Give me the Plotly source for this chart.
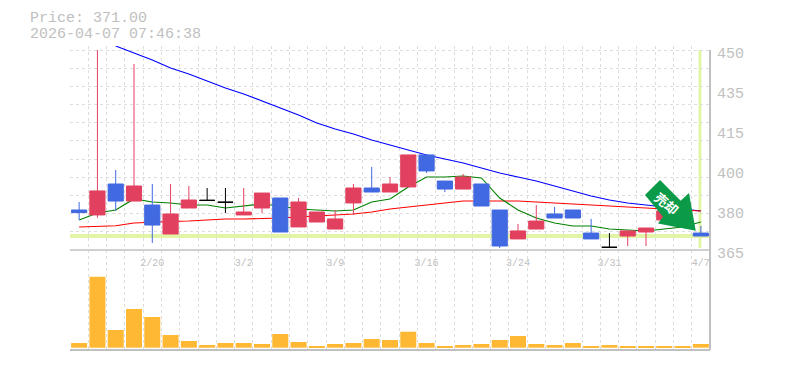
import plotly.graph_objects as go

dates = ["2/16","2/17","2/18","2/19","2/20","2/24","2/25","2/26","2/27","3/2","3/3","3/4","3/5","3/6","3/9","3/10","3/11","3/12","3/13","3/16","3/17","3/18","3/19","3/23","3/24","3/25","3/26","3/27","3/30","3/31","4/1","4/2","4/3","4/6","4/7"]
open_ = [382.0,379.9,393.05,385.8,384.1,371.8,382.85,386.1,385.3,379.9,382.85,387.1,374.8,376.9,373.9,385.0,391.35,389.65,391.8,405.4,394.3,390.9,393.05,382.0,369.7,373.9,380.3,382.0,372.2,366.15,370.95,372.65,377.75,382.0,372.2]
high_ = [385.4,450.0,399.0,444.05,393.05,393.05,392.2,391.35,391.35,391.35,389.2,387.1,387.1,381.15,382.0,393.05,400.3,396.0,405.4,405.8,394.3,397.3,393.05,382.0,376.05,384.1,383.3,382.0,378.2,372.2,373.1,374.35,381.6,382.0,375.2]
low_  = [377.75,378.7,381.7,385.8,368.0,371.8,382.85,386.1,380.7,379.9,380.7,372.65,374.8,376.9,373.9,379.9,389.65,389.65,391.8,397.7,389.65,390.9,383.7,365.85,369.7,373.9,378.6,378.6,369.7,366.15,366.7,366.7,377.75,376.9,370.95]
close = [380.9,390.1,385.8,392.2,375.6,380.3,386.25,386.1,385.3,381.15,389.2,372.65,385.4,381.15,378.2,391.35,389.65,393.05,405.4,398.6,390.9,396.0,383.7,366.7,373.1,377.3,378.6,378.6,369.7,366.15,373.1,374.35,381.6,376.9,370.95]
doji_idx = [7,8,29]
ma_long = [None,None,451.7,448.7,445.75,442.35,439.8,436.8,433.85,431.3,428.3,425.35,422.4,419.0,416.4,414.3,411.75,409.6,407.5,405.4,403.7,402.0,399.85,397.7,396.0,394.3,392.2,390.1,387.95,386.25,385.0,384.1,383.3,382.4,381.6]
ma_mid  = [374.8,375.2,375.3,376.5,376.9,377.1,377.3,377.75,378.2,378.2,378.3,378.6,379.0,379.45,379.9,380.3,381.15,382.4,383.3,384.1,385.0,385.8,385.8,385.8,385.8,385.4,385.0,384.55,384.1,383.7,383.3,382.85,382.4,382.0,381.6]
ma_short= [377.75,380.7,382.0,386.7,385.4,385.0,384.1,384.1,382.85,383.7,384.55,383.7,382.4,382.0,381.6,382.0,385.4,386.7,391.8,396.0,396.0,396.45,395.6,387.1,382.0,378.6,376.5,375.2,375.2,373.9,373.5,373.1,373.9,374.8,376.9]
volume = [47,710,177,387,307,127,67,27,47,47,37,137,57,17,37,47,87,77,160,47,17,27,37,77,117,37,27,47,17,27,17,17,17,17,37]
current_price = 371.0
price_ticks = [365,382,399,416,433,450]
price_labels = ["365","380","400","415","435","450"]
date_tick_idx = [4,9,14,19,24,29,34]
arrow_text = "売却"

RED="#e2405f"; BLUE="#4169e1"; GRID="#dddddd"; AXIS="#c0c0c0"; HL="#e2f5a5"
W,H=785,370
L,R,T,B=70,75,46,20
PH=H-T-B
VOL_FRAC=100/PH
TOP=365+204*0.425
idx=list(range(len(dates)))
norm=[i for i in idx if i not in doji_idx]
px_x=lambda p:(p-L)/(W-L-R)
px_y=lambda p:(H-B-p)/PH

fig=go.Figure()
for s,c,w in [(ma_long,"#0000ff",1.1),(ma_mid,"#ff0000",1.1),(ma_short,"#008000",1.1)]:
    fig.add_trace(go.Scatter(x=idx,y=s,mode="lines",line=dict(color=c,width=w),zorder=-1,showlegend=False,xaxis="x",yaxis="y"))
fig.add_trace(go.Candlestick(x=norm,open=[open_[i] for i in norm],high=[high_[i] for i in norm],low=[low_[i] for i in norm],close=[close[i] for i in norm],
    increasing=dict(line=dict(color=RED,width=1),fillcolor=RED),decreasing=dict(line=dict(color=BLUE,width=1),fillcolor=BLUE),whiskerwidth=0,showlegend=False))
fig.add_trace(go.Candlestick(x=doji_idx,open=[close[i] for i in doji_idx],high=[high_[i] for i in doji_idx],low=[low_[i] for i in doji_idx],close=[close[i] for i in doji_idx],
    increasing=dict(line=dict(color="#000000",width=1),fillcolor="#000000"),decreasing=dict(line=dict(color="#000000",width=1),fillcolor="#000000"),whiskerwidth=0,showlegend=False))
fig.add_trace(go.Bar(x=idx,y=volume,marker=dict(color="#ffb833",line=dict(width=0)),width=0.875,xaxis="x2",yaxis="y2",showlegend=False))

grid_x=[i-0.5 for i in range(len(dates)+1)]
grid_y=[365+k*85/11 for k in range(12)]
minor_x=dict(tickmode="array",tickvals=grid_x,showgrid=True,gridcolor=GRID,griddash="3px,3px",gridwidth=1,ticklen=0)
axis_shape=lambda a,b,c,d,w:dict(type="line",xref="paper",yref="paper",x0=px_x(a),x1=px_x(c),y0=px_y(b),y1=px_y(d),line=dict(color=AXIS,width=w),layer="above")
fig.update_layout(width=W,height=H,margin=dict(l=L,r=R,t=T,b=B,autoexpand=False),paper_bgcolor="#fff",plot_bgcolor="#fff",boxgap=0.17,boxgroupgap=0,bargap=0.125,boxmode="overlay",
  xaxis=dict(domain=[0,1],range=[-0.5,34.5],anchor="y",rangeslider=dict(visible=False),showgrid=False,minor=minor_x,tickmode="array",tickvals=date_tick_idx,ticktext=[dates[i] for i in date_tick_idx],
     tickfont=dict(family="Liberation Mono",size=10,color=AXIS),ticks="outside",ticklen=3,tickcolor="rgba(0,0,0,0)",showline=False,zeroline=False),
  yaxis=dict(domain=[VOL_FRAC,1],range=[365,TOP],side="right",anchor="x",showgrid=False,minor=dict(tickmode="array",tickvals=grid_y,showgrid=True,gridcolor=GRID,griddash="3px,3px",gridwidth=1,ticklen=0),
     tickmode="array",tickvals=price_ticks,ticktext=price_labels,tickfont=dict(family="Liberation Mono",size=15,color=AXIS),ticks="",ticklabelstandoff=6,ticklabelshift=3,showline=False,zeroline=False),
  xaxis2=dict(domain=[0,1],range=[-0.5,34.5],anchor="y2",showgrid=False,minor=minor_x,showticklabels=False,ticks="",showline=False,zeroline=False),
  yaxis2=dict(domain=[0,VOL_FRAC],range=[-23,977],side="right",anchor="x2",showgrid=False,showticklabels=False,ticks="",showline=False,zeroline=False),
  shapes=[
    dict(type="rect",xref="x",yref="y",x0=-0.5,x1=34.5,y0=450.2,y1=TOP,fillcolor="#ffffff",line=dict(width=0),layer="below"),
    dict(type="line",xref="x",x0=-0.5,x1=34.5,yref="y",y0=current_price,y1=current_price,line=dict(color=HL,width=4),layer="below"),
    dict(type="line",xref="x",x0=33.95,x1=33.95,yref="y",y0=365.85,y1=450,line=dict(color=HL,width=3),layer="below"),
    axis_shape(710,50,710,350,2),
    axis_shape(70,250,710,250,1.5),
    axis_shape(70,350,710,350,2),
    dict(type="path",xref="paper",yref="paper",fillcolor="#0a9a48",line=dict(width=0),layer="above",
      path="M "+" L ".join(f"{px_x(a):.4f},{px_y(b):.4f}" for a,b in [(660,180),(680.7,200.7),(689,193),(695.7,230.7),(658,223.5),(663,216.7),(645,195)])+" Z"),
  ],
  annotations=[
    dict(text="Price: 371.00",xref="paper",yref="paper",x=px_x(28),y=px_y(18),xanchor="left",yanchor="middle",showarrow=False,font=dict(family="Liberation Mono",size=15,color=AXIS)),
    dict(text="2026-04-07 07:46:38",xref="paper",yref="paper",x=px_x(28),y=px_y(34),xanchor="left",yanchor="middle",showarrow=False,font=dict(family="Liberation Mono",size=15,color=AXIS)),
    dict(text="<b>"+arrow_text+"</b>",xref="paper",yref="paper",x=px_x(667),y=px_y(203),xanchor="center",yanchor="middle",showarrow=False,textangle=40,font=dict(family="Noto Sans CJK JP",size=13,color="#ffffff")),
  ])
fig.write_html("out.html",config=dict(displayModeBar=False),post_script="document.body.style.margin='0';")
